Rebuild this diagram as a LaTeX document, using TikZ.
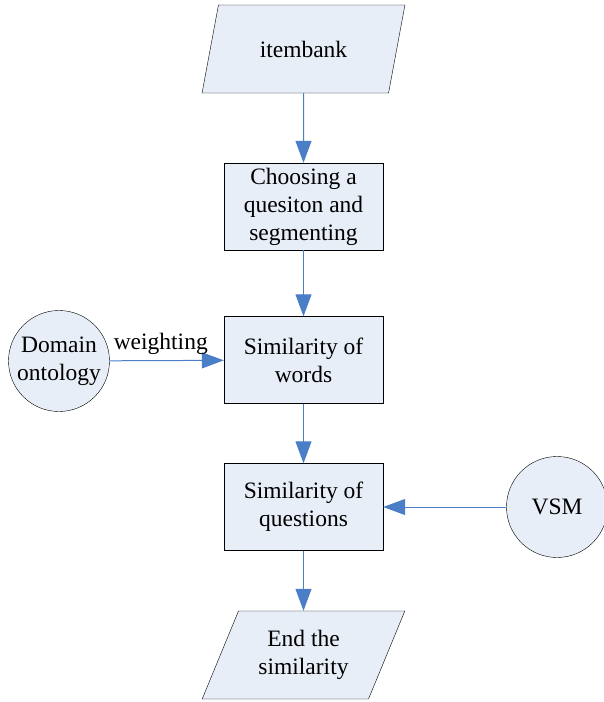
\documentclass[tikz,border=0pt]{standalone}
\usepackage{fontspec}
\setmainfont{Liberation Serif}
\usetikzlibrary{shapes.geometric,arrows.meta}
\definecolor{boxfill}{RGB}{232,238,247}
\definecolor{flowblue}{RGB}{74,126,199}
\begin{document}
\begin{tikzpicture}[x=1pt, y=-1pt,
   every node/.style={font=\fontsize{23.5}{28}\selectfont, align=center, inner sep=0pt},
   block/.style={draw, fill=boxfill, minimum width=159pt, minimum height=87pt},
   datio/.style={draw, fill=boxfill, trapezium, trapezium left angle=63, trapezium right angle=117,
     trapezium stretches=true, minimum width=203pt, minimum height=88pt},
   source/.style={draw, fill=boxfill, circle, minimum size=101pt},
   flow/.style={draw=flowblue, line width=1pt, -{Triangle[length=22pt, width=16pt]}}]
   \useasboundingbox (0,0) rectangle (603,702);
   \node[datio] (bank) at (303.5,49) {itembank};
   \node[block] (choose) at (303.5,206.5) {Choosing a\\quesiton and\\segmenting};
   \node[block] (words) at (303.5,360) {Similarity of\\words};
   \node[block] (quest) at (303.5,507) {Similarity of\\questions};
   \node[datio] (stop) at (303.5,655) {End the\\similarity};
   \node[source] (onto) at (59,361) {Domain\\ontology};
   \node[source] (vsm) at (557,507) {VSM};
   \draw[flow] (bank) -- (choose);
   \draw[flow] (choose) -- (words);
   \draw[flow] (words) -- (quest);
   \draw[flow] (quest) -- (stop);
   \draw[flow] (onto) -- node[above=5pt, xshift=-6pt] (wlab) {weighting} (words);
   \draw[flow] (vsm) -- (quest);
\end{tikzpicture}
\end{document}
